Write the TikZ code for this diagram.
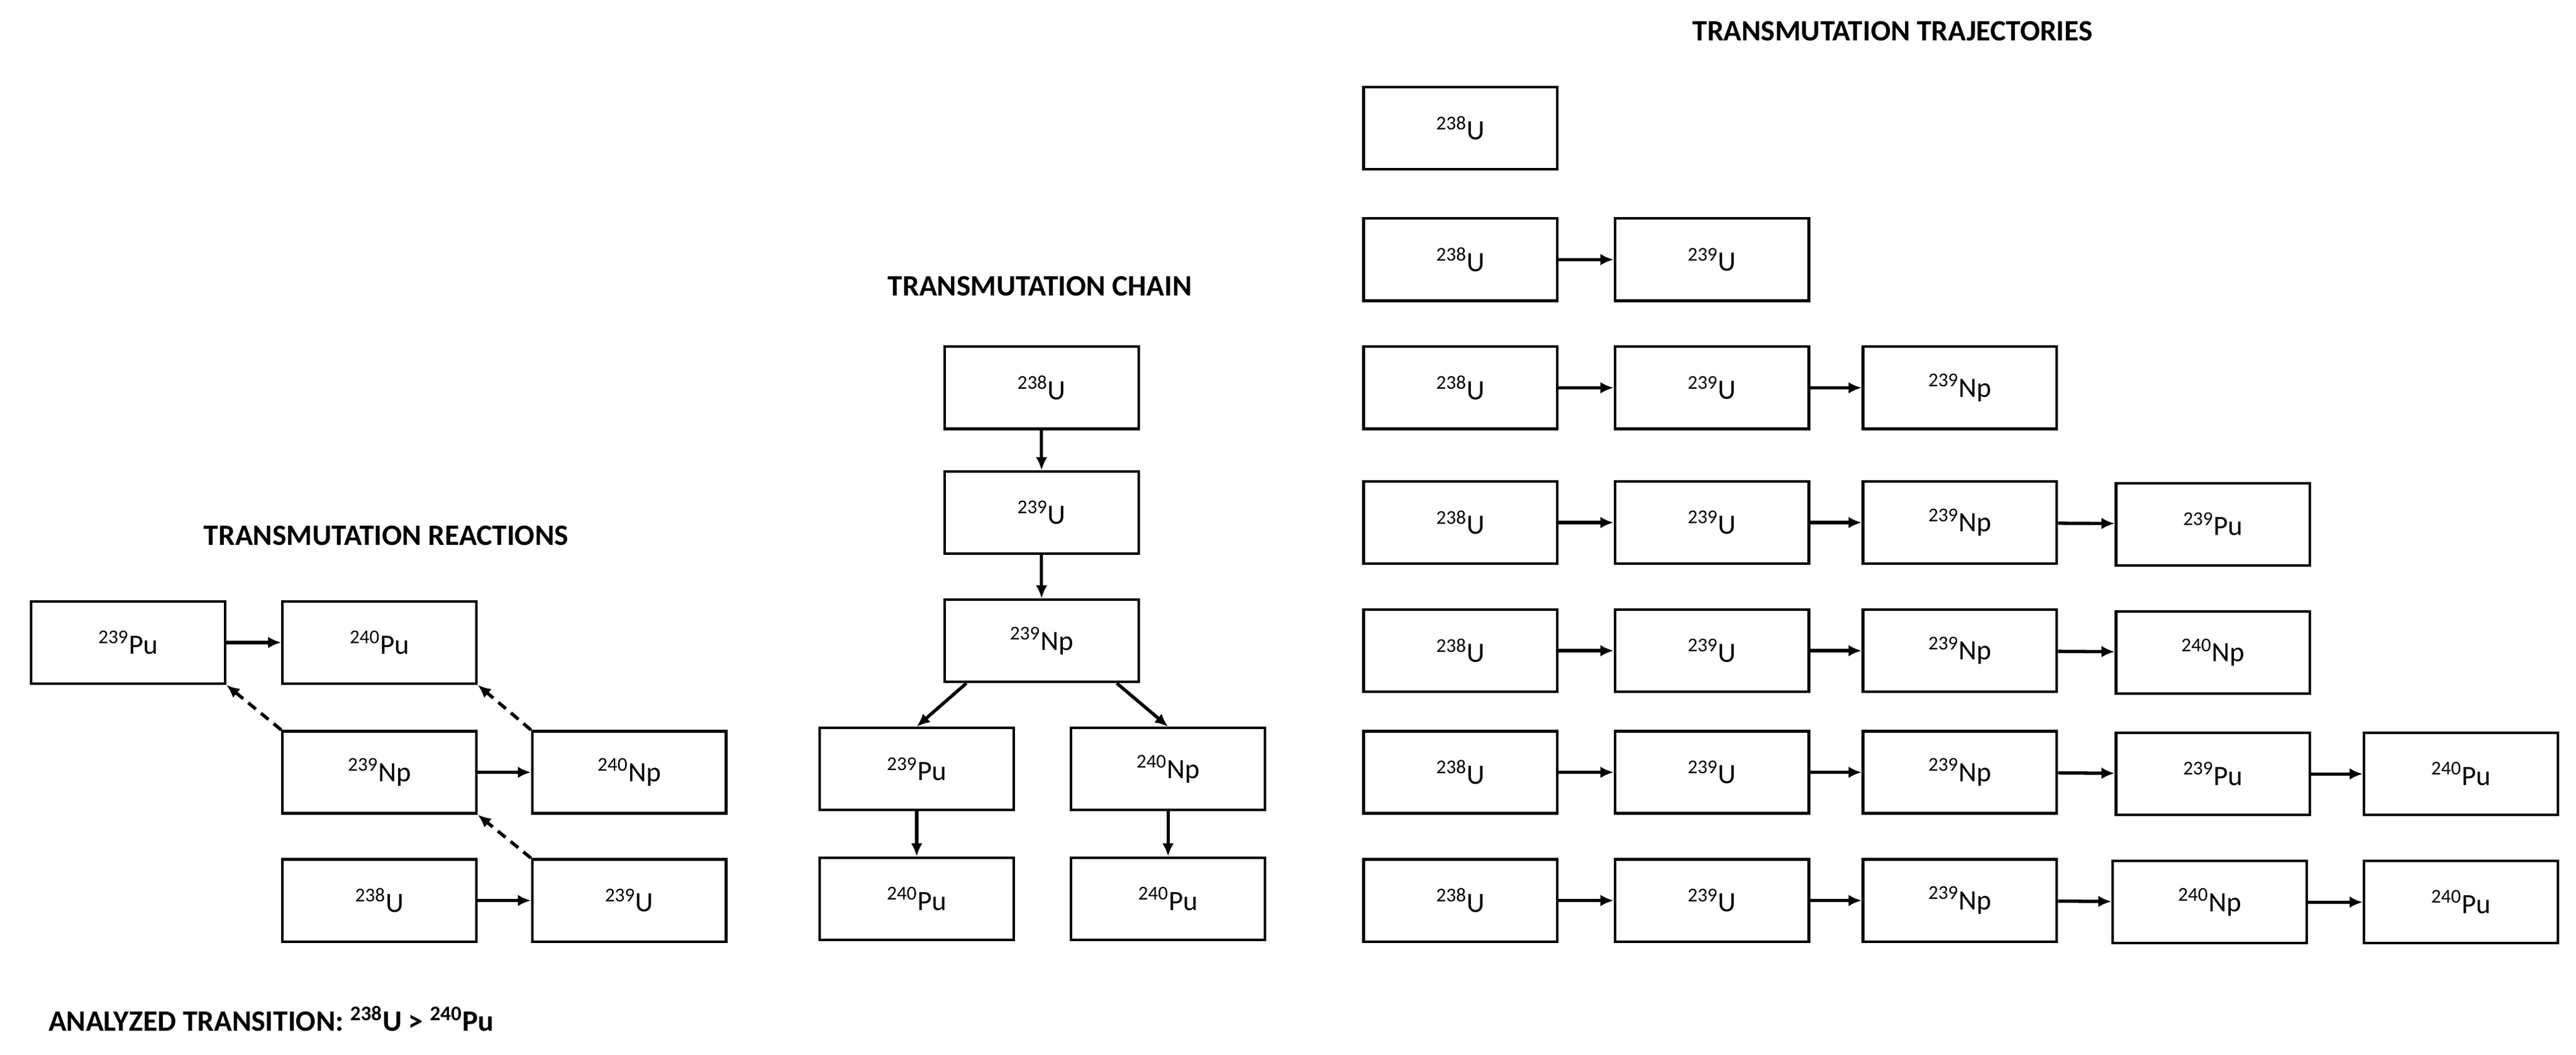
\documentclass[tikz,border=0pt]{standalone}
\usepackage{fontspec}
\setmainfont{Carlito}
\usetikzlibrary{arrows.meta}
\begin{document}
\begin{tikzpicture}[x=1pt,y=-1pt,
 box/.style={draw,line width=1.6pt,minimum width=118pt,minimum height=50pt,inner sep=0pt,font=\fontsize{17}{20}\selectfont},
 ar/.style={-{Latex[length=8pt,width=7pt]},line width=2pt},
 da/.style={ar,dash pattern=on 6pt off 4pt},
 tt/.style={font=\bfseries\fontsize{18}{22}\selectfont}]
\useasboundingbox (0,0) rectangle (1568,642);
\newcommand{\iso}[2]{\textsuperscript{#1}#2}
% reactions
\node[tt] (tr) at (235,326) {TRANSMUTATION REACTIONS};
\node[box] (r1) at (78,391) {\iso{239}{Pu}};
\node[box] (r2) at (231,391) {\iso{240}{Pu}};
\node[box] (r3) at (231,470) {\iso{239}{Np}};
\node[box] (r4) at (383,470) {\iso{240}{Np}};
\node[box] (r5) at (231,548) {\iso{238}{U}};
\node[box] (r6) at (383,548) {\iso{239}{U}};
\draw[ar] (r1) -- (r2);
\draw[ar] (r3) -- (r4);
\draw[ar] (r5) -- (r6);
\draw[da] (r3.north west) -- (r1.south east);
\draw[da] (r4.north west) -- (r2.south east);
\draw[da] (r6.north west) -- (r3.south east);
\node[tt,anchor=west] (at) at (26,620) {ANALYZED TRANSITION: \iso{238}{U} > \iso{240}{Pu}};
% chain
\node[tt] (tc) at (633,174) {TRANSMUTATION CHAIN};
\node[box] (c1) at (634,236) {\iso{238}{U}};
\node[box] (c2) at (634,312) {\iso{239}{U}};
\node[box] (c3) at (634,390) {\iso{239}{Np}};
\node[box] (c4) at (558,468) {\iso{239}{Pu}};
\node[box] (c5) at (711,468) {\iso{240}{Np}};
\node[box] (c6) at (558,547) {\iso{240}{Pu}};
\node[box] (c7) at (711,547) {\iso{240}{Pu}};
\coordinate (c3l) at ([xshift=14pt]c3.south west);
\coordinate (c3r) at ([xshift=-14pt]c3.south east);
\draw[ar] (c1) -- (c2);
\draw[ar] (c2) -- (c3);
\draw[ar] (c3l) -- (c4.north);
\draw[ar] (c3r) -- (c5.north);
\draw[ar] (c4) -- (c6);
\draw[ar] (c5) -- (c7);
% trajectories
\node[tt] (tj) at (1152,19) {TRANSMUTATION TRAJECTORIES};
\foreach \r/\y/\n in {1/78/1,2/158/2,3/236/3,4/318/4,5/396/4,6/470/5,7/548/5}{
  \node[box] (t\r-1) at (889,\y) {\iso{238}{U}};
  \ifnum\n>1 \node[box] (t\r-2) at (1042,\y) {\iso{239}{U}}; \draw[ar] (t\r-1) -- (t\r-2);\fi
  \ifnum\n>2 \node[box] (t\r-3) at (1193,\y) {\iso{239}{Np}}; \draw[ar] (t\r-2) -- (t\r-3);\fi
}
\node[box] (t4-4) at (1347,319) {\iso{239}{Pu}}; \draw[ar] (t4-3) -- (t4-4);
\node[box] (t5-4) at (1347,397) {\iso{240}{Np}}; \draw[ar] (t5-3) -- (t5-4);
\node[box] (t6-4) at (1347,471) {\iso{239}{Pu}}; \draw[ar] (t6-3) -- (t6-4);
\node[box] (t6-5) at (1498,471) {\iso{240}{Pu}}; \draw[ar] (t6-4) -- (t6-5);
\node[box] (t7-4) at (1345,549) {\iso{240}{Np}}; \draw[ar] (t7-3) -- (t7-4);
\node[box] (t7-5) at (1498,549) {\iso{240}{Pu}}; \draw[ar] (t7-4) -- (t7-5);
\end{tikzpicture}
\end{document}
